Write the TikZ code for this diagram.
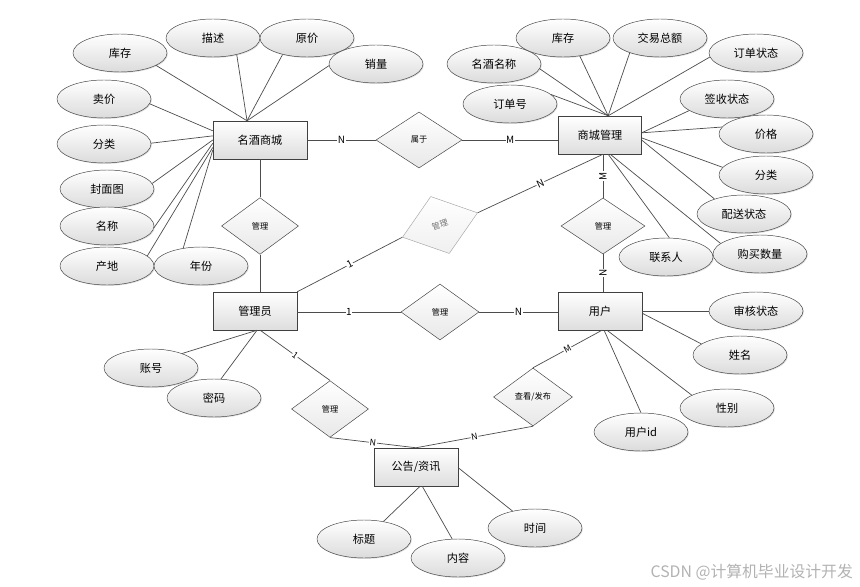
\documentclass[tikz,border=0pt]{standalone}
\usepackage{fontspec}
\setmainfont{Noto Sans CJK SC}
\usepackage{tikz}
\usetikzlibrary{shapes.geometric,shadows,calc}

\tikzset{
  entity/.style={draw=black!75, rectangle, minimum width=2.52cm, minimum height=1.14cm, inner sep=0pt,
    top color=white, bottom color=black!13, drop shadow={shadow xshift=0.8pt, shadow yshift=-0.8pt, opacity=0.25},
    font=\fontsize{9.5}{11}\selectfont},
  attr/.style={draw=black!75, ellipse, minimum width=2.82cm, minimum height=1.14cm, inner sep=0pt,
    top color=white, bottom color=black!14, drop shadow={shadow xshift=0.8pt, shadow yshift=-0.8pt, opacity=0.25},
    font=\fontsize{9.5}{11}\selectfont},
  rel/.style={draw=black!75, diamond, minimum width=2.34cm, minimum height=1.7cm, inner sep=0pt,
    top color=white, bottom color=black!9, font=\fontsize{7}{8}\selectfont},
  lab/.style={fill=white, inner sep=0.6pt, font=\fontsize{8.5}{9}\selectfont},
  conn/.style={draw=black!70, line width=0.6pt}
}

\begin{document}
\begin{tikzpicture}[x=0.03cm,y=-0.03cm]
\useasboundingbox (0,0) rectangle (860,587);

% entities
\node[entity, minimum width=2.82cm] (mc) at (260,140) {名酒商城};
\node[entity, minimum width=2.49cm] (scgl) at (600,135) {商城管理};
\node[entity] (gly) at (255,311) {管理员};
\node[entity] (yh) at (600,311) {用户};
\node[entity] (gg) at (416,467) {公告/资讯};

% relations
\node[rel, minimum width=2.58cm, minimum height=1.68cm] (sy) at (419,140) {属于};
\node[rel, minimum width=2.31cm] (gl1) at (260,226) {管理};
\node[rel, minimum width=2.52cm, minimum height=1.68cm] (gl2) at (603,226) {管理};
\node[rel, minimum height=1.68cm] (gl3) at (440,312) {管理};
\node[rel, minimum width=2.37cm, minimum height=1.8cm, rotate=18, draw=black!35, text=black!55,
  bottom color=black!6] (gl4) at (440,225) {管理};
\node[rel, minimum width=2.31cm] (gl5) at (330,409) {管理};
\node[rel, minimum width=2.37cm, minimum height=1.74cm] (ck) at (533,397) {查看/发布};

% attributes of 名酒商城
\node[attr] (mcKc) at (120,53) {库存};
\node[attr] (mcMs) at (213,38) {描述};
\node[attr] (mcYj) at (307,38) {原价};
\node[attr] (mcXl) at (376,64) {销量};
\node[attr] (mcMj) at (104,99) {卖价};
\node[attr] (mcFl) at (104,144) {分类};
\node[attr] (mcFm) at (107,189) {封面图};
\node[attr] (mcMc) at (107,226) {名称};
\node[attr] (mcCd) at (107,266) {产地};
\node[attr] (mcNf) at (201,266) {年份};

% attributes of 商城管理
\node[attr] (scMc) at (494,64) {名酒名称};
\node[attr] (scKc) at (563,38) {库存};
\node[attr] (scJy) at (660,38) {交易总额};
\node[attr] (scDd) at (756,53) {订单状态};
\node[attr] (scDh) at (510,104) {订单号};
\node[attr] (scQs) at (727,99) {签收状态};
\node[attr] (scJg) at (766,134) {价格};
\node[attr] (scFl) at (766,175) {分类};
\node[attr] (scPs) at (744,214) {配送状态};
\node[attr] (scLx) at (666,257) {联系人};
\node[attr] (scGm) at (760,254) {购买数量};

% attributes of 管理员, 用户, 公告/资讯
\node[attr] (glyZh) at (151,368) {账号};
\node[attr] (glyMm) at (214,398) {密码};
\node[attr] (yhSh) at (756,311) {审核状态};
\node[attr] (yhXm) at (740,355) {姓名};
\node[attr] (yhXb) at (727,408) {性别};
\node[attr] (yhId) at (641,432) {用户id};
\node[attr] (ggBt) at (364,539) {标题};
\node[attr] (ggNr) at (458,558) {内容};
\node[attr] (ggSj) at (535,528) {时间};

% attribute lines
\draw[conn] (mcKc.-19) -- (mc.124);
\draw[conn] (mcMs.-35) -- (mc.124);
\draw[conn] (mcYj.-146) -- (mc.124);
\draw[conn] (mcXl.182) -- (mc.124);
\draw[conn] (mcMj.-6) -- (mc.169);
\draw[conn] (mcFl.1) -- (mc.175);
\draw[conn] (mcFm.7) -- (mc.180);
\draw[conn] (mcMc.-2) -- (mc.184);
\draw[conn] (mcCd.14) -- (mc.189);
\draw[conn] (mcNf.135) -- (mc.192);

\draw[conn] (scMc.-6) -- (scgl.67);
\draw[conn] (scDh.13) -- (scgl.67);
\draw[conn] (scKc.-47) -- (scgl.67);
\draw[conn] (scJy.-154) -- (scgl.67);
\draw[conn] (scDd.185) -- (scgl.67);
\draw[conn] (scQs.197) -- (scgl.3);
\draw[conn] (scJg.171) -- (scgl.3);
\draw[conn] (scFl.170) -- (scgl.-4);
\draw[conn] (scPs.153) -- (scgl.-7);
\draw[conn] (scLx.80) -- (scgl.-67);
\draw[conn] (scGm.165) -- (scgl.-62);

\draw[conn] (glyZh.25) -- (gly.-84);
\draw[conn] (glyMm.70) -- (gly.-84);
\draw[conn] (yhSh) -- (yh);
\draw[conn] (yhXm.164) -- (yh.-3);
\draw[conn] (yhXb.160) -- (yh.-70);
\draw[conn] (yhId.north) -- (yh.-78);
\draw[conn] (ggBt.42) -- (gg.-78);
\draw[conn] (ggNr.107) -- (gg.-72);
\draw[conn] (ggSj.143) -- (gg.-1);

% relation lines
\draw[conn] (mc) -- node[lab] {N} (sy);
\draw[conn] (sy.east) -- node[lab] {M} (sy.east -| scgl.west);
\draw[conn] (mc) -- (gl1) -- (gl1.south |- gly.north);
\draw[conn] (gl2.north |- scgl.south) -- node[lab, rotate=90] {M} (gl2.north);
\draw[conn] (gl2.south) -- node[lab, rotate=90] {N} (gl2.south |- yh.north);
\draw[conn] (gly.east |- gl3) -- node[lab] {1} (gl3.west);
\draw[conn] (gl3.east) -- node[lab] {N} (gl3.east -| yh.west);
\draw[conn] (gly.north east) -- node[lab, sloped] {1} (gl4.west);
\draw[conn] (gl4.east) -- node[lab, sloped] {N} (scgl.-81);
\draw[conn] (gly.-75) -- node[lab, sloped, font=\fontsize{7.5}{8}\selectfont] {1} (gl5.north);
\draw[conn] (gl5.south) -- node[lab, sloped, font=\fontsize{7.5}{8}\selectfont] {N} (gg.north);
\draw[conn] (yh.-84) -- node[lab, sloped, font=\fontsize{7.5}{8}\selectfont] {M} (ck.north);
\draw[conn] (ck.south) -- node[lab, sloped, font=\fontsize{7.5}{8}\selectfont] {N} (gg.north);

% watermark
\node[anchor=east, text=black!30, font=\fontsize{13.5}{15}\selectfont] (wm) at (857,572) {CSDN @计算机毕业设计开发};
\end{tikzpicture}
\end{document}
